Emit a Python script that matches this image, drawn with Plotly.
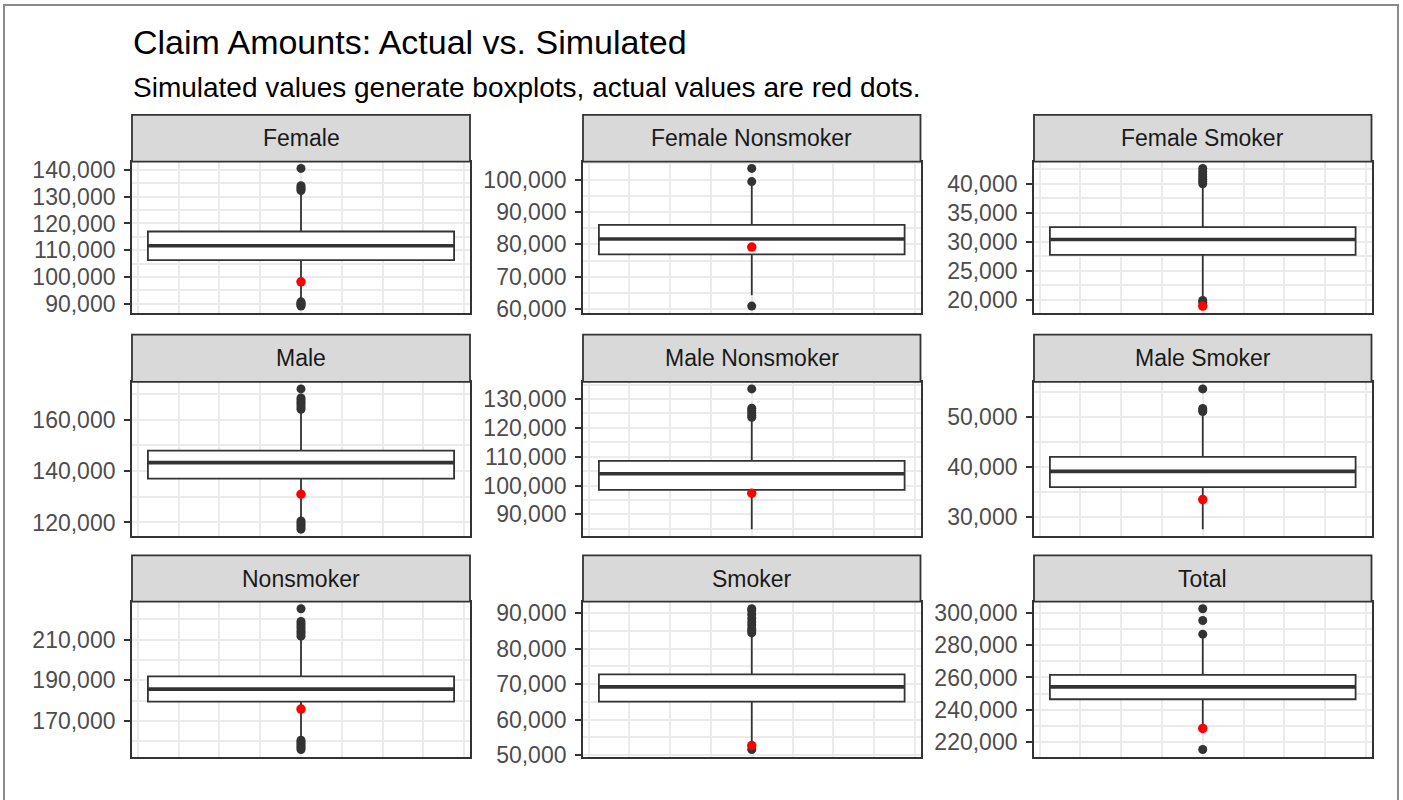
import plotly.graph_objects as go

W, H = 1403, 800

PANELS = ["Female", "Female Nonsmoker", "Female Smoker",
          "Male", "Male Nonsmoker", "Male Smoker",
          "Nonsmoker", "Smoker", "Total"]

# boxplot stats of the simulated claim totals
Q1 = [106300, 76900, 27750, 137050, 98530, 35900, 179580, 65100, 246540]
MEDIAN = [111700, 81670, 30400, 143240, 104120, 39060, 185660, 69240, 254190]
Q3 = [117000, 86020, 32540, 147880, 108530, 41940, 191930, 72740, 261650]
LOWER_WHISKER = [91000, 64250, 20200, 121000, 84900, 27520, 161500, 52750, 228000]
UPPER_WHISKER = [132000, 98500, 39800, 163500, 123000, 50500, 211000, 83800, 284500]

# simulated values beyond the whiskers
OUTLIERS = [
    [140600, 134100, 133500, 132900, 132300, 90700, 90300, 89900, 89500, 89100],
    [103470, 99390, 60910],
    [42650, 42100, 41600, 41200, 40800, 40400, 40000, 19900, 19600],
    [171900, 168400, 167600, 166700, 165800, 164900, 164000,
     120600, 119800, 119000, 118200, 117400],
    [133500, 126800, 126000, 125200, 124400, 123700],
    [55520, 51600, 51300, 51000],
    [225200, 218900, 217700, 216500, 215300, 214100, 212900, 211700,
     160600, 159700, 158800, 157900, 157000, 156000],
    [91200, 90700, 89600, 88500, 87500, 86600, 85600, 85000, 84400, 51620],
    [302490, 295210, 286760, 215500],
]

# actual claim amounts (red dots)
ACTUAL = [98200, 79150, 18940, 130970, 97340, 33420, 175850, 52740, 228520]

Y_DTICK = [10000, 10000, 5000, 20000, 10000, 10000, 20000, 10000, 20000]
Y_TICK0 = [0, 0, 0, 0, 0, 0, 10000, 0, 0]

BOX_W = 0.75
X_HALF = 0.414

# pixel layout of the facet grid (as measured on the target picture)
COL_PX = [(132, 470), (583, 920.5), (1034, 1371.5)]
ROW_PX = [(115, 161.7, 313.3), (335, 382.3, 536.7), (556, 602.3, 757.3)]

# the captured page comes out slightly squeezed vertically; undo that
Y_SCALE, Y_OFF = 0.981, 4.0

FONT = "Liberation Sans, Arial, sans-serif"
DARK = "#333333"
GRID = "#ebebeb"
LW = 1.8


def px_x(v):
    return v / W


def px_y(v):
    return 1 - ((v - Y_OFF) / Y_SCALE) / H


fig = go.Figure()
shapes = []
annotations = []
layout_axes = {}

for i, name in enumerate(PANELS):
    r, c = divmod(i, 3)
    n = "" if i == 0 else str(i + 1)
    xa, ya = "x" + n, "y" + n
    c0, c1 = COL_PX[c]
    s0, p0, p1 = ROW_PX[r]

    vals = OUTLIERS[i] + [ACTUAL[i], LOWER_WHISKER[i], UPPER_WHISKER[i]]
    lo, hi = min(vals), max(vals)
    pad = 0.05 * (hi - lo)

    fig.add_trace(go.Box(
        x=[0], q1=[Q1[i]], median=[MEDIAN[i]], q3=[Q3[i]],
        lowerfence=[LOWER_WHISKER[i]], upperfence=[UPPER_WHISKER[i]],
        width=BOX_W, whiskerwidth=0, boxpoints=False,
        fillcolor="white", line=dict(color=DARK, width=LW),
        xaxis=xa, yaxis=ya, hoverinfo="skip", showlegend=False,
    ))
    # thicker median bar, as in ggplot
    fig.add_trace(go.Scatter(
        x=[-BOX_W / 2, BOX_W / 2], y=[MEDIAN[i], MEDIAN[i]], mode="lines",
        line=dict(color=DARK, width=3.6), xaxis=xa, yaxis=ya,
        hoverinfo="skip", showlegend=False,
    ))
    fig.add_trace(go.Scatter(
        x=[0] * len(OUTLIERS[i]), y=OUTLIERS[i], mode="markers",
        marker=dict(color=DARK, size=9), xaxis=xa, yaxis=ya,
        showlegend=False,
    ))
    fig.add_trace(go.Scatter(
        x=[0], y=[ACTUAL[i]], mode="markers",
        marker=dict(color="red", size=9.5), xaxis=xa, yaxis=ya,
        showlegend=False,
    ))

    layout_axes["xaxis" + n] = dict(
        domain=[px_x(c0), px_x(c1)], range=[-X_HALF, X_HALF], anchor=ya,
        showticklabels=False, ticks="", tick0=0, dtick=0.2,
        showgrid=True, gridcolor=GRID, gridwidth=2,
        minor=dict(tick0=0, dtick=0.1, showgrid=True, gridcolor=GRID, gridwidth=1.6),
        zeroline=False, showline=True, mirror=True, linecolor=DARK, linewidth=LW,
    )
    layout_axes["yaxis" + n] = dict(
        domain=[px_y(p1), px_y(p0)], range=[lo - pad, hi + pad], anchor=xa,
        tick0=Y_TICK0[i], dtick=Y_DTICK[i], tickformat=",",
        ticks="outside", ticklen=6, tickwidth=1.6, tickcolor=DARK,
        ticklabelstandoff=4,
        tickfont=dict(family=FONT, size=23, color="#4d4d4d"),
        showgrid=True, gridcolor=GRID, gridwidth=2,
        minor=dict(tick0=Y_TICK0[i], dtick=Y_DTICK[i] / 2, showgrid=True,
                   gridcolor=GRID, gridwidth=1.6),
        zeroline=False, showline=True, mirror=True, linecolor=DARK, linewidth=LW,
    )

    # facet strip
    shapes.append(dict(
        type="rect", xref="paper", yref="paper",
        x0=px_x(c0), x1=px_x(c1), y0=px_y(p0), y1=px_y(s0),
        fillcolor="#d9d9d9", line=dict(color=DARK, width=LW),
    ))
    annotations.append(dict(
        text=name, xref="paper", yref="paper",
        x=px_x((c0 + c1) / 2), y=px_y((s0 + p0) / 2),
        xanchor="center", yanchor="middle", showarrow=False,
        font=dict(family=FONT, size=23, color="#1a1a1a"),
    ))

# outer frame of the image
shapes.append(dict(
    type="rect", xref="paper", yref="paper",
    x0=px_x(4), x1=px_x(1398), y0=-0.05, y1=px_y(5),
    fillcolor="rgba(0,0,0,0)", line=dict(color="#8a8a8a", width=2),
))

annotations.append(dict(
    text="Claim Amounts: Actual vs. Simulated", xref="paper", yref="paper",
    x=px_x(131), y=px_y(42), xanchor="left", yanchor="middle", showarrow=False,
    font=dict(family=FONT, size=34, color="black"),
))
annotations.append(dict(
    text="Simulated values generate boxplots, actual values are red dots.",
    xref="paper", yref="paper",
    x=px_x(131), y=px_y(88), xanchor="left", yanchor="middle", showarrow=False,
    font=dict(family=FONT, size=28, color="black"),
))

fig.update_layout(
    width=W, height=H,
    margin=dict(l=0, r=0, t=0, b=0),
    paper_bgcolor="white", plot_bgcolor="white",
    showlegend=False,
    shapes=shapes, annotations=annotations,
    **layout_axes,
)

# pin the figure to the top-left corner of the window
page_js = (
    "document.body.style.margin='0';"
    "var gd=document.getElementById('{plot_id}');"
    "gd.style.position='fixed';gd.style.top='0';gd.style.left='0';"
)
fig.write_html("out.html", config={"displayModeBar": False}, post_script=page_js)
